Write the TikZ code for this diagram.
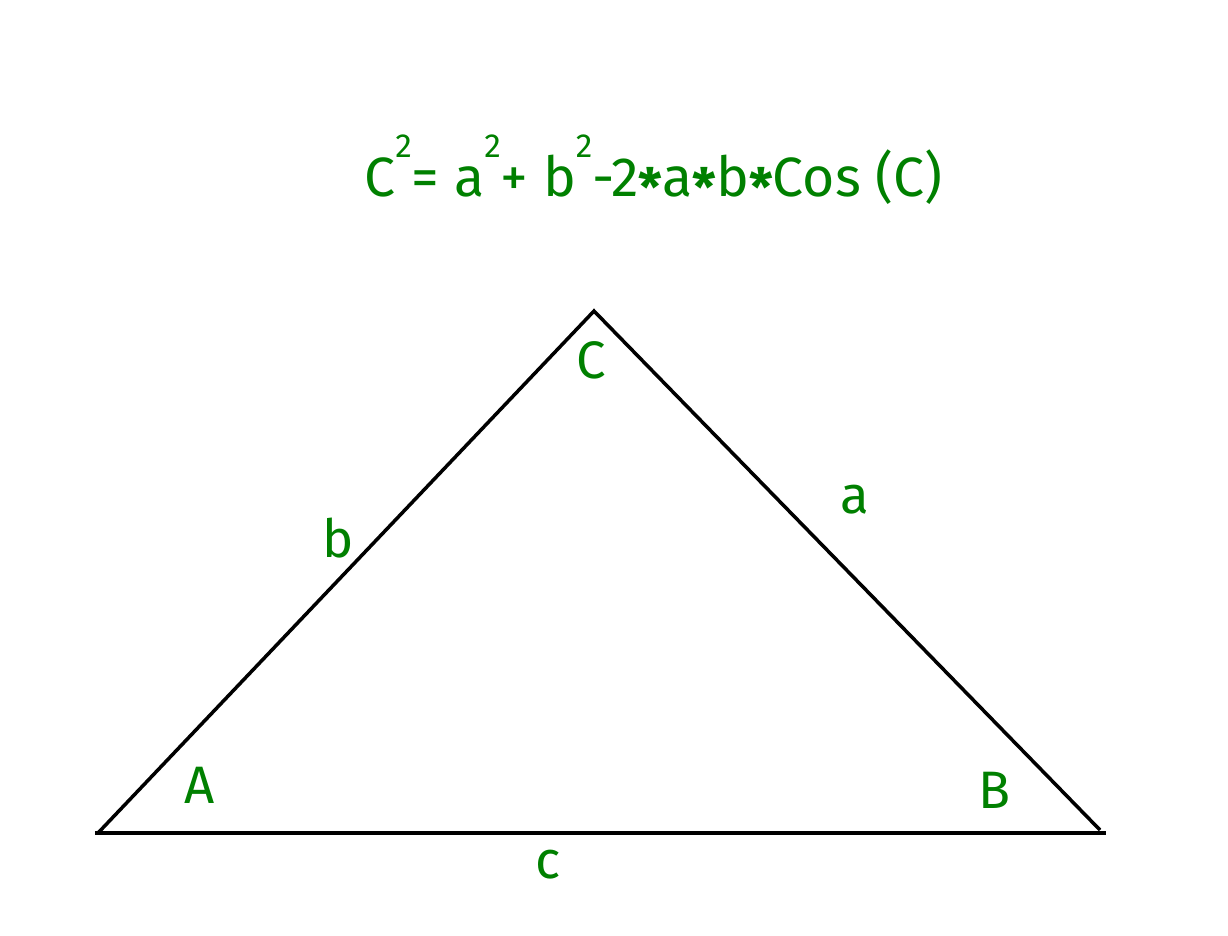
\documentclass[tikz,border=0pt]{standalone}
\usepackage{fontspec}
\setmainfont{Fira Sans}
\usepackage{tikz}
\usetikzlibrary{calc}
\definecolor{labelgreen}{RGB}{0,128,0}
% small raised square
\newcommand{\sqtwo}{\raisebox{22pt}{\fontsize{19}{20}\selectfont 2}}
\newcommand{\mulstar}{\raisebox{-0.35ex}{\fontsize{30}{30}\selectfont\bfseries *}}

\begin{document}
\begin{tikzpicture}[x=0.02cm, y=-0.02cm,
	side/.style={line width=2pt, black},
	lbl/.style={text=labelgreen, font=\fontsize{30}{36}\selectfont, inner sep=0pt},
	formula/.style={lbl, font=\fontsize{31.5}{38}\selectfont}]
% Frame of the picture
\useasboundingbox (0,0) rectangle (1228,936);

% Corners of the triangle
\coordinate (A) at (98, 833);
\coordinate (B) at (1100, 830);
\coordinate (C) at (594, 311);
% Base runs a little past both corners
\coordinate (baseL) at (95, 833);
\coordinate (baseR) at (1106, 833);

% Draw sides
\draw[side] (baseL) -- (baseR);
\draw[side, line join=miter] (A) -- (C) -- (B);

% Law of cosines
\node[formula, anchor=base west] (law) at (364, 196) {C\sqtwo= a\sqtwo+ b\sqtwo-2\mulstar a\mulstar b\mulstar Cos (C)};

% Angle labels
\node[lbl] (angC) at (591, 360) {C};
\node[lbl] (angA) at (200, 785) {A};
\node[lbl] (angB) at (995, 790) {B};

% Side labels
\node[lbl] (sideb) at (338, 538) {b};
\node[lbl] (sidea) at (855, 500) {a};
\node[lbl] (sidec) at (548, 865) {c};

\end{tikzpicture}
\end{document}
